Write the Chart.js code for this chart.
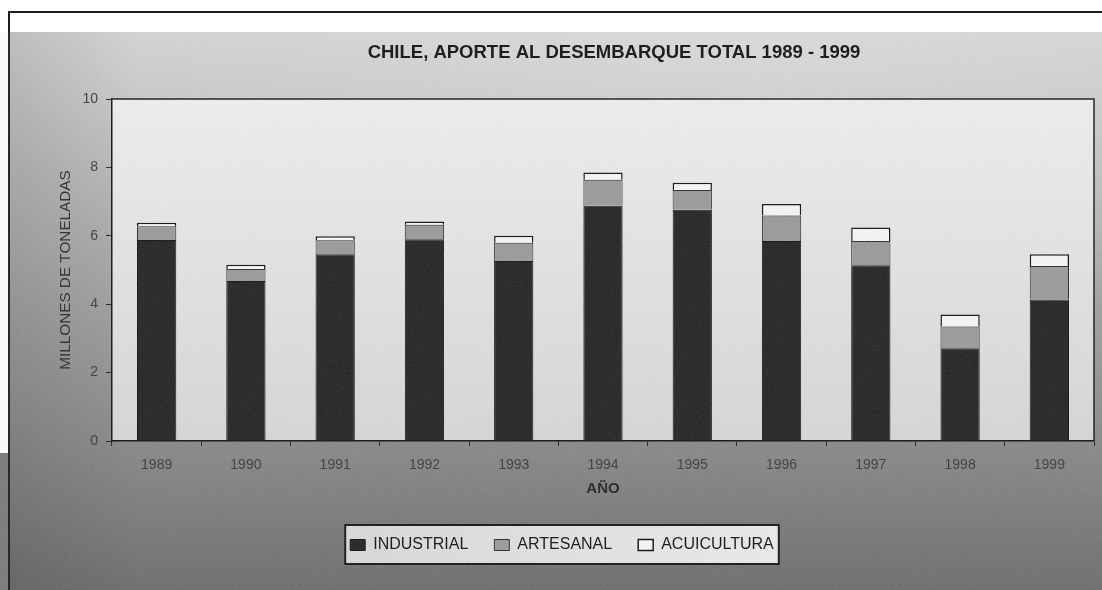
<!DOCTYPE html>
<html>
<head>
<meta charset="utf-8">
<script src="https://cdn.jsdelivr.net/npm/chart.js@4.4.1/dist/chart.umd.min.js"></script>
<style>
  body { margin: 0; background: #fff; width: 1102px; height: 590px; overflow: hidden; position: relative; }
  #frame { position: absolute; left: 8px; top: 11px; width: 1094px; height: 579px;
           border-top: 2px solid #1c1c1c; border-left: 2px solid #1c1c1c; box-sizing: border-box; }
  #bg { position: absolute; left: 10px; top: 32px; width: 1092px; height: 558px;
        background:
          linear-gradient(to right, rgba(0,0,0,0.10) 0%, rgba(0,0,0,0) 12%),
          radial-gradient(ellipse 800px 300px at 70% 0%, rgba(225,225,225,0.6), rgba(225,225,225,0) 100%),
          linear-gradient(to bottom, #d4d4d4 0%, #bababa 25%, #a0a0a0 50%, #878787 75%, #6c6c6c 100%); }
  #bgLeft { position: absolute; left: 0; top: 453px; width: 10px; height: 137px; background: #7a7a7a; }
  #noise { position: absolute; left: 0; top: 32px; width: 1102px; height: 558px; pointer-events: none; opacity: 0.16;
           background-image: url("data:image/svg+xml;utf8,<svg xmlns='http://www.w3.org/2000/svg' width='300' height='300'><filter id='n'><feTurbulence type='fractalNoise' baseFrequency='0.85' numOctaves='2' stitchTiles='stitch'/><feColorMatrix type='saturate' values='0'/></filter><rect width='300' height='300' filter='url(%23n)'/></svg>"); }
  canvas { position: absolute; left: 0; top: 0; }
</style>
</head>
<body>
<div id="bg"></div>
<div id="bgLeft"></div>
<div id="frame"></div>
<canvas id="chart" width="1102" height="590"></canvas>
<div id="noise"></div>
<script>
// Values (millions of tonnes)
const years = ['1989', '1990', '1991', '1992', '1993', '1994', '1995', '1996', '1997', '1998', '1999'];
const industrial = [5.88, 4.68, 5.46, 5.90, 5.26, 6.88, 6.76, 5.85, 5.14, 2.71, 4.14];
const artesanal = [0.40, 0.35, 0.41, 0.42, 0.54, 0.76, 0.58, 0.74, 0.71, 0.64, 0.98];
const acuicultura = [0.10, 0.12, 0.12, 0.10, 0.20, 0.21, 0.21, 0.34, 0.39, 0.35, 0.34];
const yTicks = [0, 2, 4, 6, 8, 10];

const titleText = 'CHILE, APORTE AL DESEMBARQUE TOTAL 1989 - 1999';
const FONT = '"Liberation Sans", Arial, sans-serif';

// Plot area fill, legend box, frame lines and the title
const decorations = {
    id: 'decorations',
    beforeDraw(chart) {
        const {ctx, chartArea: a} = chart;
        ctx.save();
        const g = ctx.createLinearGradient(0, a.top, 0, a.bottom);
        g.addColorStop(0, '#f0f0f0');
        g.addColorStop(1, '#d8d8d8');
        ctx.fillStyle = g;
        ctx.fillRect(a.left, a.top, a.right - a.left, a.bottom - a.top);

        // box around the legend
        const hb = chart.legend.legendHitBoxes;
        if (hb && hb.length) {
            const l = hb[0].left - 5;
            const r = hb[hb.length - 1].left + hb[hb.length - 1].width + 5;
            const t = hb[0].top - 12;
            const b = hb[0].top + hb[0].height + 11;
            const lg = ctx.createLinearGradient(l, 0, r, 0);
            lg.addColorStop(0, '#dadada');
            lg.addColorStop(1, '#ececec');
            ctx.fillStyle = lg;
            ctx.fillRect(l, t, r - l, b - t);
            ctx.lineWidth = 2;
            ctx.strokeStyle = '#151515';
            ctx.strokeRect(l, t, r - l, b - t);
        }
        ctx.restore();
    },
    afterDraw(chart) {
        const {ctx, chartArea: a} = chart;
        ctx.save();
        ctx.strokeStyle = '#1a1a1a';
        ctx.lineWidth = 1.5;
        ctx.beginPath();
        ctx.moveTo(a.left, a.top);
        ctx.lineTo(a.right, a.top);
        ctx.lineTo(a.right, a.bottom);
        ctx.stroke();
        ctx.fillStyle = '#111';
        ctx.font = 'bold 18.5px ' + FONT;
        ctx.textAlign = 'center';
        ctx.textBaseline = 'middle';
        ctx.fillText(titleText, (a.left + a.right) / 2 + 11, 53);
        ctx.restore();
    }
};

new Chart(document.getElementById('chart'), {
    type: 'bar',
    data: {
        labels: years,
        datasets: [
            { label: 'INDUSTRIAL', data: industrial, backgroundColor: '#222222', borderColor: '#111', borderWidth: 1 },
            { label: 'ARTESANAL', data: artesanal, backgroundColor: '#9a9a9a', borderColor: '#2a2a2a', borderWidth: 1 },
            { label: 'ACUICULTURA', data: acuicultura, backgroundColor: '#f8f8f8', borderColor: '#111', borderWidth: 1.5 }
        ]
    },
    options: {
        responsive: false,
        animation: false,
        datasets: { bar: { barPercentage: 0.44, categoryPercentage: 1 } },
        layout: { padding: { top: 99, right: 8, bottom: 27, left: 30 } },
        plugins: {
            title: { display: false },
            tooltip: { enabled: false },
            legend: {
                position: 'bottom',
                labels: {
                    color: '#111',
                    font: { family: FONT, size: 16 },
                    boxWidth: 15,
                    boxHeight: 11,
                    padding: 26
                }
            }
        },
        scales: {
            x: {
                stacked: true,
                afterFit(scale) { scale.height = 70; },
                grid: { display: true, drawOnChartArea: false, tickLength: 5, color: '#222' },
                border: { display: true, color: '#111', width: 1.5 },
                ticks: { color: '#3a3a3a', font: { family: FONT, size: 14 }, padding: 11, maxRotation: 0 },
                title: { display: true, text: 'AÑO', color: '#222', font: { family: FONT, size: 15, weight: 'bold' },
                         padding: { top: 4, bottom: 13 } }
            },
            y: {
                stacked: true,
                min: 0,
                max: 10,
                afterFit(scale) { scale.width = 82; },
                afterBuildTicks(scale) { scale.ticks = yTicks.map(v => ({ value: v })); },
                grid: { display: true, drawOnChartArea: false, tickLength: 6, color: '#222' },
                border: { display: true, color: '#111', width: 1.5 },
                ticks: { color: '#3a3a3a', font: { family: FONT, size: 14 }, padding: 8 },
                title: { display: true, text: 'MILLONES DE TONELADAS', color: '#2a2a2a', font: { family: FONT, size: 15.3 },
                         padding: { top: 27, bottom: 4 } }
            }
        }
    },
    plugins: [decorations]
});
</script>
</body>
</html>
